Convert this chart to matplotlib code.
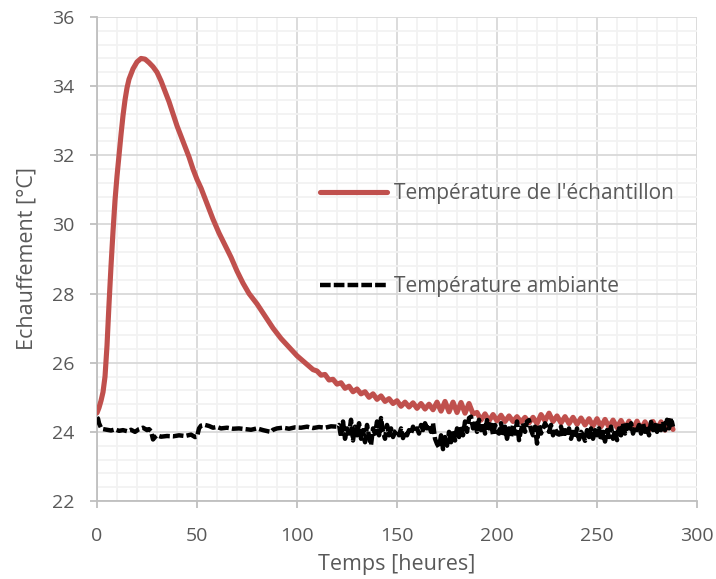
import matplotlib
matplotlib.use("Agg")
import matplotlib.pyplot as plt
from matplotlib.ticker import MultipleLocator

# Sample temperature
red_t = [0, 1, 2, 3, 4, 5, 6, 7, 8, 9, 10, 11, 12, 13, 14, 15, 16, 18, 20, 22,
         24, 26, 28, 30, 32, 34, 36, 38, 40, 42, 44, 46, 48, 50, 52, 55, 58, 61,
         64, 67, 70, 73, 76, 80, 84, 88, 92, 96, 100, 104, 108,
         110, 112, 114, 116, 118, 120, 122, 124, 126, 128, 130, 132, 134, 136,
         138, 140, 142, 144, 146, 148, 150, 152, 154, 156, 158, 160, 162, 164,
         166, 168, 170, 172, 174, 176, 178, 180, 182, 184, 186, 188, 190, 192,
         194, 196, 198, 200, 202, 204, 206, 208, 210, 212, 214, 216, 218, 220,
         222, 224, 226, 228, 230, 232, 234, 236, 238, 240, 242, 244, 246, 248,
         250, 252, 254, 256, 258, 260, 262, 264, 266, 268, 270, 272, 274, 276,
         278, 280, 282, 284, 286, 288]
red_v = [24.55, 24.7, 24.9, 25.15, 25.6, 26.5, 27.7, 28.8, 29.8, 30.7, 31.4,
         32.0, 32.6, 33.15, 33.6, 33.95, 34.2, 34.5, 34.7, 34.8, 34.78, 34.68,
         34.56, 34.4, 34.15, 33.85, 33.55, 33.2, 32.85, 32.55, 32.25, 31.95,
         31.6, 31.3, 31.05, 30.6, 30.15, 29.75, 29.4, 29.05, 28.65, 28.3, 28.0,
         27.7, 27.35, 27.0, 26.7, 26.45, 26.2, 26.0, 25.8,
         25.76, 25.64, 25.66, 25.50, 25.52, 25.38, 25.42, 25.26, 25.32, 25.16,
         25.24, 25.10, 25.16, 25.00, 25.10, 24.94, 25.04, 24.88, 24.96, 24.82,
         24.90, 24.74, 24.86, 24.72, 24.84, 24.68, 24.82, 24.66, 24.80, 24.64,
         24.86, 24.60, 24.88, 24.58, 24.86, 24.56, 24.85, 24.54, 24.82, 24.52,
         24.56, 24.34, 24.52, 24.32, 24.50, 24.32, 24.48, 24.30, 24.46, 24.30,
         24.44, 24.28, 24.42, 24.26, 24.42, 24.24, 24.50, 24.32, 24.54, 24.30,
         24.46, 24.26, 24.44, 24.24, 24.42, 24.22, 24.40, 24.20, 24.38, 24.17,
         24.38, 24.15, 24.36, 24.14, 24.34, 24.12, 24.33, 24.10, 24.31, 24.08,
         24.31, 24.07, 24.29, 24.06, 24.30, 24.05, 24.29, 24.05, 24.32, 24.07]

# Ambient temperature: calm part, then hourly noisy readings from 121 h
amb_t_calm = [0, 0.5, 1, 2, 3, 5, 7, 9, 11, 13, 15, 17, 19, 21, 23, 25, 26, 27,
              28, 29, 30, 32, 35, 38, 41, 44, 47, 49, 50, 51, 52, 54, 56, 58,
              60, 62, 65, 68, 71, 74, 77, 80, 83, 86, 87, 88, 90, 93, 96, 99,
              102, 105, 108, 111, 114, 117, 120]
amb_v_calm = [24.42, 24.38, 24.25, 24.12, 24.08, 24.06, 24.04, 24.07, 24.03,
              24.05, 24.02, 24.06, 24.0, 24.08, 24.12, 24.05, 24.08, 24.02,
              23.78, 23.85, 23.9, 23.86, 23.88, 23.87, 23.9, 23.88, 23.92,
              23.85, 23.86, 24.1, 24.18, 24.2, 24.17, 24.12, 24.14, 24.1, 24.12,
              24.09, 24.1, 24.08, 24.06, 24.1, 24.05, 24.01, 24.0, 24.06, 24.1,
              24.12, 24.09, 24.13, 24.12, 24.15, 24.11, 24.14, 24.12, 24.16,
              24.15]
amb_v_noisy = [
    24.20, 23.85, 24.30, 23.80, 24.10, 23.95, 24.35, 23.75, 24.15, 23.90,
    24.25, 23.80, 24.05, 23.70, 24.20, 23.85, 23.62, 24.10, 23.95, 24.30,
    23.90, 24.40, 24.00, 23.80, 24.20, 23.90, 24.10, 23.85, 24.00, 24.05,
    23.90, 24.10, 23.82, 24.00, 23.90, 24.05, 23.95, 24.15, 24.00, 24.10,
    23.95, 24.20, 24.05, 24.25, 24.10, 24.20, 24.00, 24.25, 23.80, 23.65,
    23.55, 23.90, 23.50, 23.85, 23.60, 24.00, 23.70, 24.05, 23.75, 24.10,
    23.85, 24.15, 23.90, 24.30, 24.00, 24.40, 24.44, 24.10, 24.30, 24.00,
    24.35, 24.05, 24.25, 23.95, 24.34, 24.10, 24.30, 23.90, 24.20, 24.00,
    23.95, 24.25, 23.90, 24.15, 23.80, 24.10, 23.85, 24.20, 23.95, 24.30,
    23.76, 24.05, 24.25, 24.00, 24.30, 24.34, 24.05, 23.90, 24.15, 23.66,
    24.20, 23.95, 24.10, 24.25, 24.15, 24.00, 24.20, 23.90, 24.10, 23.95,
    23.92, 24.15, 23.85, 24.05, 23.90, 24.10, 23.80, 24.00, 23.85, 24.10,
    23.78, 24.00, 23.90, 23.74, 24.05, 23.85, 24.10, 23.80, 24.05, 23.90,
    24.10, 23.75, 24.00, 23.72, 24.05, 23.85, 24.15, 23.80, 24.05, 23.76,
    24.10, 23.90, 24.25, 23.95, 24.20, 24.00, 24.25, 23.95, 24.15, 24.05,
    24.20, 23.95, 24.25, 24.00, 24.15, 23.90, 24.29, 24.05, 24.20, 24.00,
    24.25, 24.05, 24.30, 24.05, 24.35, 24.10, 24.40, 24.15]
amb_t = amb_t_calm + list(range(121, 121 + len(amb_v_noisy)))
amb_v = amb_v_calm + amb_v_noisy

plt.rcParams['font.family'] = ['Open Sans', 'DejaVu Sans']
grey_text = '#595959'
axis_col = '#BFBFBF'

fig = plt.figure(figsize=(7.16, 5.79), dpi=100)
ax = fig.add_axes([0.1355, 0.1347, 0.838, 0.836])

ax.plot(red_t, red_v, color='#C0504D', lw=3.7, solid_joinstyle='round',
        solid_capstyle='round', label="Température de l'échantillon", zorder=3)
ax.plot(amb_t, amb_v, color='black', lw=3.2, ls=(0, (2.4, 0.7)),
        label='Température ambiante', zorder=4)

ax.set_xlim(0, 300)
ax.set_ylim(22, 36)
ax.xaxis.set_major_locator(MultipleLocator(50))
ax.xaxis.set_minor_locator(MultipleLocator(10))
ax.yaxis.set_major_locator(MultipleLocator(2))
ax.yaxis.set_minor_locator(MultipleLocator(0.4))
ax.grid(which='minor', color='#F2F2F2', lw=1.3, zorder=0)
ax.grid(which='major', color='#D9D9D9', lw=1.3, zorder=1)
ax.set_axisbelow(True)

for side in ['top', 'right']:
    ax.spines[side].set_visible(False)
for side in ['left', 'bottom']:
    ax.spines[side].set_color(axis_col)
    ax.spines[side].set_linewidth(1.3)
ax.tick_params(which='major', length=5, width=1.3, color=axis_col,
               labelsize=14, labelcolor=grey_text)
ax.tick_params(axis='x', which='major', pad=14)
ax.tick_params(axis='y', which='major', pad=11)
ax.tick_params(which='minor', length=0)

ax.set_xlabel('Temps [heures]', fontsize=15.5, color=grey_text, labelpad=6)
ax.set_ylabel('Echauffement [°C]', fontsize=15.5, color=grey_text, labelpad=11)

leg = ax.legend(loc='upper left', bbox_to_anchor=(0.34, 0.695), frameon=False,
                fontsize=15, handlelength=3.25, handletextpad=0.3,
                labelspacing=3.45, labelcolor=grey_text)

fig.savefig('out.png', dpi=100)
